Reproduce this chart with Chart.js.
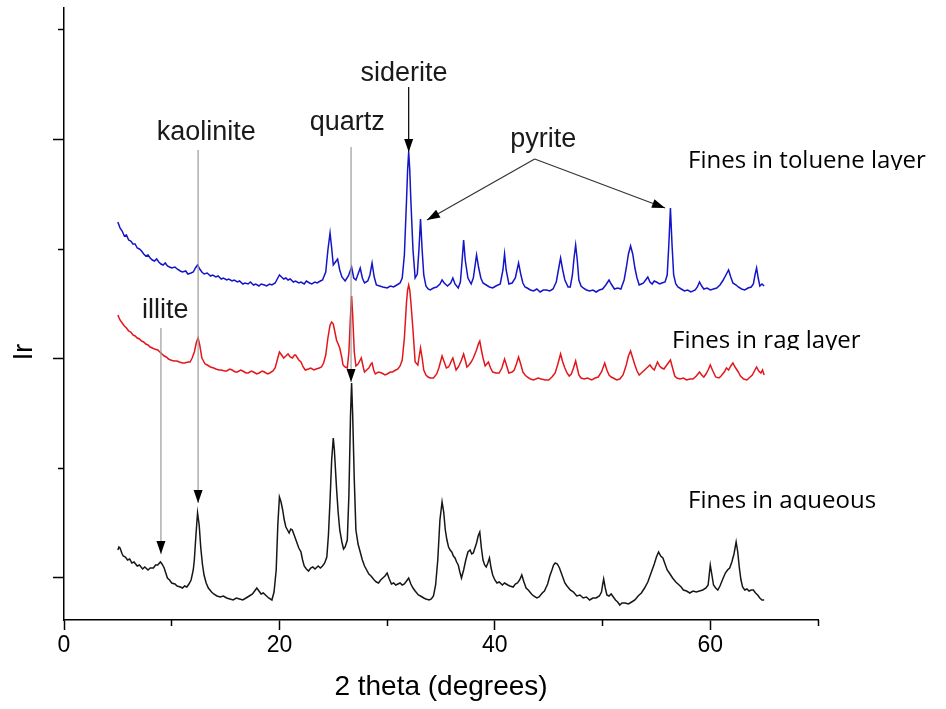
<!DOCTYPE html>
<html>
<head>
<meta charset="utf-8">
<title>XRD of fines</title>
<script src="https://cdn.jsdelivr.net/npm/chart.js@4.4.0/dist/chart.umd.min.js"></script>
<style>
  body { margin: 0; background: #fff; }
</style>
</head>
<body>
<canvas id="xrd" width="946" height="709"></canvas>
<script>
// 2 theta marks: labelled ones and the short ones between them
const xMajor = [0, 20, 40, 60];
const xMinor = [10, 30, 50, 70];
// intensity axis has no numbers, only marks (arbitrary units)
const yMajor = [43, 262, 481];
const yMinor = [152, 371, 590];

// [2 theta, Ir] (curves are offset in the original)
const tolueneLayer = [
  [5.0,398],[5.2,392],[5.4,389],[5.6,384],[5.8,385],[6.0,380],[6.2,379],[6.4,376],[6.6,376],[6.8,372],
  [7.0,371],[7.2,369],[7.4,366],[7.6,364],[7.8,365],[8.0,362],[8.2,360],[8.4,359],[8.6,361],[8.8,358],
  [9.0,356],[9.2,355],[9.4,357],[9.6,354],[9.8,353],[10.0,352],[10.3,353],[10.5,351],[10.8,349],[11.0,348],
  [11.3,349],[11.5,346],[11.8,347],[12.0,348],[12.2,352],[12.4,355],[12.6,351],[12.8,348],[13.0,346],[13.3,347],
  [13.6,344],[13.8,345],[14.1,343],[14.3,344],[14.6,341],[14.8,342],[15.1,340],[15.3,341],[15.6,339],[15.8,340],
  [16.1,338],[16.3,339],[16.6,336],[16.8,337],[17.1,336],[17.3,338],[17.6,335],[17.8,336],[18.1,334],[18.3,336],
  [18.6,335],[18.8,334],[19.1,336],[19.3,335],[19.6,337],[19.8,341],[20.0,345],[20.2,343],[20.4,341],[20.6,342],
  [20.8,340],[21.0,341],[21.3,338],[21.5,339],[21.8,337],[22.0,338],[22.3,336],[22.5,339],[22.8,337],[23.0,336],
  [23.3,338],[23.5,337],[23.8,339],[24.0,340],[24.3,348],[24.5,370],[24.7,387],[24.85,372],[25.0,355],[25.2,358],
  [25.4,361],[25.6,350],[25.8,343],[26.1,339],[26.4,344],[26.7,353],[26.9,342],[27.1,340],[27.3,346],[27.5,352],
  [27.7,342],[27.9,337],[28.2,339],[28.4,345],[28.6,357],[28.8,343],[29.0,335],[29.3,334],[29.6,333],[30.0,332],
  [30.3,334],[30.6,333],[30.9,335],[31.2,337],[31.4,342],[31.6,365],[31.8,420],[31.9,450],[32.0,468],[32.1,450],
  [32.2,420],[32.4,370],[32.6,342],[32.8,346],[32.95,370],[33.1,401],[33.25,370],[33.4,345],[33.6,334],[33.8,331],
  [34.0,330],[34.3,332],[34.6,333],[34.9,336],[35.1,340],[35.3,337],[35.6,334],[35.9,337],[36.1,342],[36.3,336],
  [36.6,332],[36.8,338],[36.95,358],[37.1,380],[37.25,360],[37.5,342],[37.8,336],[38.0,342],[38.3,365],[38.5,352],
  [38.7,342],[38.9,337],[39.2,335],[39.5,333],[39.8,332],[40.1,334],[40.5,336],[40.75,350],[40.9,366],[41.05,350],
  [41.3,336],[41.6,337],[41.9,342],[42.2,357],[42.4,346],[42.6,337],[42.8,333],[43.0,332],[43.3,330],[43.6,329],
  [43.9,331],[44.2,328],[44.5,330],[44.8,330],[45.1,329],[45.4,331],[45.7,338],[45.9,350],[46.1,362],[46.3,350],
  [46.5,340],[46.8,333],[47.0,333],[47.2,345],[47.35,362],[47.5,375],[47.65,360],[47.8,340],[48.0,334],[48.2,332],
  [48.5,330],[48.8,329],[49.1,330],[49.4,328],[49.7,330],[50.0,331],[50.3,335],[50.6,340],[50.8,336],[51.1,331],
  [51.4,332],[51.7,331],[52.0,340],[52.2,352],[52.4,366],[52.6,374],[52.8,366],[53.0,352],[53.2,342],[53.4,335],
  [53.6,336],[53.8,337],[54.0,340],[54.2,343],[54.4,338],[54.6,336],[54.8,339],[55.0,338],[55.3,336],[55.5,337],
  [55.8,338],[56.0,345],[56.15,375],[56.3,412],[56.45,375],[56.6,345],[56.8,336],[57.0,333],[57.3,331],[57.6,329],
  [57.9,330],[58.2,328],[58.6,330],[58.8,333],[59.0,338],[59.2,334],[59.4,331],[59.7,332],[60.0,330],[60.3,331],
  [60.6,332],[60.9,335],[61.2,340],[61.5,346],[61.7,350],[61.9,343],[62.1,337],[62.4,335],[62.6,333],[62.9,331],
  [63.2,330],[63.5,332],[63.8,333],[64.0,336],[64.15,345],[64.3,352],[64.45,342],[64.6,334],[64.8,336],[65.0,334]
];

const ragLayer = [
  [5.0,305],[5.2,300],[5.4,297],[5.6,294],[5.8,292],[6.0,289],[6.2,288],[6.4,285],[6.6,284],[6.8,282],
  [7.0,281],[7.2,279],[7.4,278],[7.6,276],[7.8,275],[8.0,273],[8.2,272],[8.4,271],[8.7,270],[8.9,268],
  [9.1,266],[9.3,264],[9.5,263],[9.7,261],[9.9,260],[10.2,259],[10.5,259],[10.7,258],[11.0,257],[11.2,257],
  [11.5,258],[11.7,258],[11.9,262],[12.1,268],[12.3,278],[12.45,282],[12.6,275],[12.8,262],[13.1,256],[13.3,255],
  [13.6,253],[13.9,252],[14.1,251],[14.4,250],[14.6,250],[14.9,249],[15.1,249],[15.4,251],[15.6,250],[15.9,248],
  [16.1,248],[16.4,250],[16.6,249],[16.9,247],[17.1,247],[17.4,249],[17.6,248],[17.9,246],[18.1,247],[18.4,249],
  [18.6,248],[18.9,246],[19.1,247],[19.4,249],[19.6,252],[19.8,260],[20.0,268],[20.2,265],[20.4,262],[20.6,264],
  [20.8,266],[21.0,263],[21.2,262],[21.4,265],[21.5,265],[21.8,260],[22.0,258],[22.2,253],[22.4,250],[22.7,251],
  [22.9,252],[23.2,250],[23.4,251],[23.7,252],[23.9,253],[24.1,257],[24.3,265],[24.5,282],[24.7,295],[24.85,298],
  [25.0,296],[25.15,288],[25.3,280],[25.45,276],[25.6,272],[25.8,262],[25.9,255],[26.1,253],[26.3,252],[26.45,268],
  [26.6,305],[26.7,324],[26.8,305],[26.95,268],[27.1,254],[27.3,256],[27.4,258],[27.6,262],[27.8,252],[27.9,248],
  [28.1,250],[28.3,252],[28.5,256],[28.6,257],[28.75,250],[28.9,246],[29.2,248],[29.5,247],[29.8,245],[30.0,246],
  [30.3,248],[30.5,248],[30.8,250],[31.0,251],[31.2,254],[31.4,260],[31.6,282],[31.8,318],[31.9,330],[32.0,335],
  [32.1,330],[32.2,318],[32.4,290],[32.6,258],[32.85,255],[32.95,262],[33.1,272],[33.25,262],[33.4,250],[33.6,245],
  [33.8,243],[34.0,242],[34.3,242],[34.6,246],[34.8,252],[34.95,258],[35.1,264],[35.3,258],[35.5,252],[35.7,253],
  [35.8,255],[36.0,260],[36.1,262],[36.3,254],[36.4,250],[36.6,253],[36.7,255],[36.9,260],[37.1,266],[37.3,258],
  [37.4,253],[37.6,255],[37.8,258],[38.0,262],[38.3,270],[38.5,277],[38.6,279],[38.75,270],[38.9,262],[39.1,254],
  [39.25,256],[39.4,258],[39.6,252],[39.8,248],[40.1,247],[40.4,247],[40.65,252],[40.9,261],[41.1,254],[41.3,247],
  [41.6,248],[41.8,250],[42.0,256],[42.2,263],[42.4,256],[42.6,248],[42.8,245],[43.0,243],[43.3,241],[43.6,240],
  [44.0,242],[44.3,241],[44.7,240],[45.0,240],[45.3,243],[45.6,247],[45.85,256],[46.1,266],[46.3,258],[46.5,252],
  [46.7,247],[46.9,244],[47.1,246],[47.3,252],[47.5,259],[47.65,252],[47.8,245],[48.0,242],[48.3,241],[48.6,242],
  [49.0,240],[49.3,242],[49.6,243],[49.9,248],[50.2,257],[50.4,250],[50.6,245],[50.8,243],[51.0,242],[51.3,240],
  [51.6,241],[51.9,245],[52.2,255],[52.4,264],[52.6,269],[52.8,262],[53.0,255],[53.2,249],[53.4,245],[53.6,247],
  [53.9,250],[54.1,252],[54.4,255],[54.6,252],[54.8,250],[54.95,254],[55.1,258],[55.3,254],[55.5,252],[55.7,251],
  [55.9,254],[56.1,257],[56.3,260],[56.5,252],[56.7,244],[56.9,242],[57.2,241],[57.5,242],[57.8,240],[58.1,241],
  [58.4,241],[58.7,244],[59.0,248],[59.2,245],[59.4,243],[59.6,246],[59.8,250],[60.0,255],[60.2,250],[60.5,243],
  [60.8,242],[61.0,244],[61.3,248],[61.5,252],[61.7,250],[61.9,254],[62.1,257],[62.3,253],[62.6,248],[62.8,244],
  [63.1,241],[63.4,240],[63.6,242],[63.9,245],[64.1,249],[64.3,253],[64.5,249],[64.7,247],[64.85,250],[65.0,245]
];

const aqueous = [
  [5.0,70],[5.1,73],[5.2,72],[5.4,66],[5.5,64],[5.7,63],[5.9,60],[6.1,61],[6.3,57],[6.5,58],
  [6.8,54],[7.0,55],[7.3,51],[7.5,53],[7.8,50],[8.0,52],[8.3,52],[8.5,55],[8.7,55],[8.95,58],
  [9.1,56],[9.3,52],[9.45,47],[9.6,42],[9.8,40],[10.0,37],[10.3,36],[10.5,34],[10.8,33],[11.0,32],
  [11.2,34],[11.4,33],[11.6,36],[11.8,40],[12.0,50],[12.1,60],[12.25,85],[12.4,107],[12.55,95],[12.7,72],
  [12.85,56],[13.0,45],[13.2,37],[13.4,32],[13.7,28],[13.9,26],[14.2,24],[14.5,23],[14.8,24],[15.1,22],
  [15.4,21],[15.7,20],[16.0,22],[16.3,21],[16.6,20],[16.9,22],[17.2,24],[17.5,26],[17.7,29],[17.9,32],
  [18.1,29],[18.3,26],[18.5,27],[18.8,24],[19.0,22],[19.3,20],[19.5,28],[19.7,50],[19.85,95],[20.0,123],
  [20.15,118],[20.3,110],[20.45,100],[20.6,93],[20.75,90],[20.9,87],[21.05,91],[21.2,90],[21.4,84],[21.6,78],
  [21.8,72],[22.0,68],[22.15,60],[22.3,54],[22.5,51],[22.7,49],[22.9,52],[23.1,53],[23.3,51],[23.6,54],
  [23.8,52],[24.0,54],[24.2,57],[24.4,63],[24.55,85],[24.7,120],[24.85,160],[25.0,182],[25.1,170],[25.3,132],
  [25.45,108],[25.6,90],[25.8,78],[25.95,71],[26.1,73],[26.3,80],[26.45,125],[26.6,205],[26.7,237],[26.8,205],
  [26.95,140],[27.1,90],[27.3,76],[27.5,68],[27.7,60],[27.9,54],[28.1,50],[28.3,46],[28.5,44],[28.8,40],
  [29.0,38],[29.2,37],[29.4,40],[29.6,42],[29.8,44],[30.0,47],[30.2,41],[30.4,36],[30.6,37],[30.8,35],
  [31.0,36],[31.2,37],[31.4,35],[31.6,36],[31.8,39],[32.0,42],[32.2,36],[32.4,32],[32.6,29],[32.9,25],
  [33.1,24],[33.4,22],[33.6,21],[33.9,20],[34.1,21],[34.3,24],[34.5,35],[34.7,60],[34.9,100],[35.1,118],
  [35.25,108],[35.4,90],[35.55,80],[35.7,73],[35.85,70],[36.0,68],[36.15,64],[36.3,62],[36.45,58],[36.6,55],
  [36.75,48],[36.9,42],[37.1,50],[37.3,60],[37.5,68],[37.7,70],[37.85,66],[38.0,67],[38.15,72],[38.3,77],
  [38.45,84],[38.6,88],[38.75,72],[38.9,60],[39.05,55],[39.2,53],[39.35,57],[39.5,62],[39.65,52],[39.8,45],
  [40.0,40],[40.2,37],[40.4,38],[40.7,35],[40.9,37],[41.2,35],[41.4,34],[41.7,33],[41.9,36],[42.1,37],
  [42.3,40],[42.5,45],[42.7,38],[42.9,32],[43.1,30],[43.4,26],[43.6,24],[43.9,22],[44.1,23],[44.4,27],
  [44.6,29],[44.9,36],[45.1,44],[45.3,50],[45.45,55],[45.6,57],[45.8,56],[46.0,52],[46.2,46],[46.5,37],
  [46.7,34],[47.0,30],[47.3,28],[47.6,24],[47.9,25],[48.2,22],[48.5,23],[48.8,20],[49.1,22],[49.4,22],
  [49.7,24],[49.9,28],[50.0,35],[50.1,41],[50.25,32],[50.4,25],[50.6,24],[50.8,26],[51.0,23],[51.2,20],
  [51.4,18],[51.6,15],[51.8,17],[52.1,17],[52.4,16],[52.7,18],[53.0,20],[53.3,24],[53.6,27],[53.9,32],
  [54.2,38],[54.5,47],[54.8,56],[55.0,63],[55.2,68],[55.4,64],[55.6,62],[55.8,56],[56.0,50],[56.2,47],
  [56.5,42],[56.8,38],[57.0,36],[57.3,33],[57.5,30],[57.8,29],[58.1,27],[58.4,29],[58.7,28],[59.0,29],
  [59.3,30],[59.6,32],[59.8,35],[59.9,45],[60.0,55],[60.15,45],[60.3,35],[60.5,32],[60.7,30],[60.9,34],
  [61.2,42],[61.4,47],[61.6,50],[61.8,52],[62.0,58],[62.2,66],[62.4,78],[62.55,68],[62.7,52],[62.85,40],
  [63.0,33],[63.2,30],[63.4,31],[63.6,29],[63.8,30],[64.0,30],[64.2,27],[64.4,25],[64.6,22],[64.8,20],[65.0,20]
];

const toPoints = rows => rows.map(r => ({ x: r[0], y: r[1] }));

// straight arrow with a filled head, as in the original figure
function arrow(c, x1, y1, x2, y2, lineColor) {
  c.strokeStyle = lineColor;
  c.lineWidth = 1.2;
  c.beginPath();
  c.moveTo(x1, y1);
  c.lineTo(x2, y2);
  c.stroke();
  const a = Math.atan2(y2 - y1, x2 - x1), len = 13, half = 4.5;
  c.fillStyle = '#000';
  c.beginPath();
  c.moveTo(x2, y2);
  c.lineTo(x2 - len * Math.cos(a) + half * Math.sin(a), y2 - len * Math.sin(a) - half * Math.cos(a));
  c.lineTo(x2 - len * Math.cos(a) - half * Math.sin(a), y2 - len * Math.sin(a) + half * Math.cos(a));
  c.closePath();
  c.fill();
}

const peakLabels = {
  id: 'peakLabels',
  beforeDatasetsDraw(chart) {
    // sample names (text boxes in the original, cut off at the bottom)
    const c = chart.ctx;
    c.save();
    c.font = '24px "Open Sans"';
    c.fillStyle = '#000';
    c.textBaseline = 'alphabetic';
    [['Fines in toluene layer', 688, 168, 170],
     ['Fines in rag layer', 672, 348, 350],
     ['Fines in aqueous', 688, 508, 510]].forEach(([t, x, y, cut]) => {
      c.save();
      c.beginPath();
      c.rect(x - 5, cut - 60, 300, 60);
      c.clip();
      c.fillText(t, x, y);
      c.restore();
    });
    c.restore();
  },
  afterDatasetsDraw(chart) {
    const c = chart.ctx;
    const X = v => chart.scales.x.getPixelForValue(v);
    const Y = v => chart.scales.y.getPixelForValue(v);
    c.save();
    c.font = '27px "Liberation Sans", Arial, sans-serif';
    c.fillStyle = '#1a1a1a';
    c.textAlign = 'center';
    c.textBaseline = 'alphabetic';
    c.fillText('siderite', X(31.57), Y(539));
    c.fillText('kaolinite', X(13.2), Y(480));
    c.fillText('quartz', X(26.3), Y(490));
    c.fillText('illite', X(9.4), Y(302));
    c.fillText('pyrite', X(44.5), Y(473));

    arrow(c, X(32.0), Y(533), X(32.0), Y(468), '#000');
    arrow(c, X(12.45), Y(470), X(12.45), Y(117), '#9a9a9a');
    arrow(c, X(26.65), Y(473), X(26.65), Y(238), '#9a9a9a');
    arrow(c, X(9.0), Y(292), X(9.0), Y(66), '#9a9a9a');
    arrow(c, X(43.7), Y(461), X(33.7), Y(400), '#333');
    arrow(c, X(43.7), Y(461), X(55.8), Y(412), '#333');

    // y axis title, sits a bit below the middle in the original
    c.translate(25, 352);
    c.rotate(-Math.PI / 2);
    c.textBaseline = 'middle';
    c.fillStyle = '#000';
    c.fillText('Ir', 0, 0);
    c.restore();
  }
};

const tickFont = { family: '"Liberation Sans", Arial, sans-serif', size: 23 };

new Chart(document.getElementById('xrd'), {
  type: 'line',
  data: {
    datasets: [
      { label: 'Fines in toluene layer', data: toPoints(tolueneLayer), borderColor: '#1414c8' },
      { label: 'Fines in rag layer', data: toPoints(ragLayer), borderColor: '#e3161b' },
      { label: 'Fines in aqueous', data: toPoints(aqueous), borderColor: '#161616' }
    ]
  },
  options: {
    responsive: false,
    animation: false,
    layout: { padding: { top: 8, right: 128, left: 0, bottom: 0 } },
    elements: {
      point: { radius: 0 },
      line: { borderWidth: 1.5, tension: 0 }
    },
    plugins: {
      legend: { display: false },
      tooltip: { enabled: false }
    },
    scales: {
      x: {
        type: 'linear', position: 'bottom', min: 0, max: 70, weight: 1,
        afterBuildTicks: s => { s.ticks = xMajor.map(v => ({ value: v })); },
        afterFit: s => { s.height = 89; },
        grid: { drawOnChartArea: false, tickLength: 10, tickWidth: 1.5, tickColor: '#000' },
        border: { color: '#000', width: 1.5 },
        ticks: { color: '#000', font: tickFont, padding: 2, maxRotation: 0 },
        title: {
          display: true, text: '2 theta (degrees)', color: '#000',
          font: { family: '"Liberation Sans", Arial, sans-serif', size: 28 },
          padding: { top: 5, bottom: 5 }
        }
      },
      xMinor: {
        type: 'linear', position: 'bottom', min: 0, max: 70, weight: 0,
        afterBuildTicks: s => { s.ticks = xMinor.map(v => ({ value: v })); },
        afterFit: s => { s.height = 0; },
        grid: { drawOnChartArea: false, tickLength: 6, tickWidth: 1.5, tickColor: '#000' },
        border: { display: false },
        ticks: { display: false }
      },
      y: {
        type: 'linear', position: 'left', min: 0, max: 612, weight: 1,
        afterBuildTicks: s => { s.ticks = yMajor.map(v => ({ value: v })); },
        afterFit: s => { s.width = 64; },
        grid: { drawOnChartArea: false, tickLength: 11, tickWidth: 1.5, tickColor: '#000' },
        border: { color: '#000', width: 1.5 },
        ticks: { display: false }
      },
      yMinor: {
        type: 'linear', position: 'left', min: 0, max: 612, weight: 0,
        afterBuildTicks: s => { s.ticks = yMinor.map(v => ({ value: v })); },
        afterFit: s => { s.width = 0; },
        grid: { drawOnChartArea: false, tickLength: 6, tickWidth: 1.5, tickColor: '#000' },
        border: { display: false },
        ticks: { display: false }
      }
    }
  },
  plugins: [peakLabels]
});
</script>
</body>
</html>
